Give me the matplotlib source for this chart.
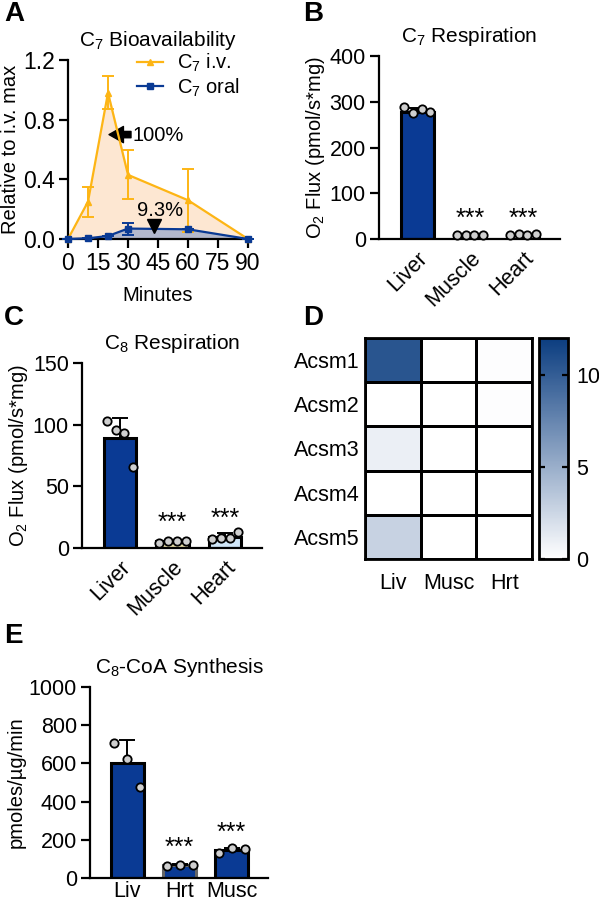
import matplotlib
matplotlib.use('Agg')
import matplotlib.pyplot as plt
from matplotlib.colors import LinearSegmentedColormap
import numpy as np

plt.rcParams['font.family'] = ['Liberation Sans', 'DejaVu Sans']
plt.rcParams['font.size'] = 14.5
plt.rcParams['xtick.labelsize'] = 15.5
plt.rcParams['ytick.labelsize'] = 15.5
plt.rcParams['axes.linewidth'] = 1.6
plt.rcParams['xtick.major.width'] = 1.6
plt.rcParams['ytick.major.width'] = 1.6
plt.rcParams['xtick.major.size'] = 6.5
plt.rcParams['ytick.major.size'] = 6.5
plt.rcParams['mathtext.default'] = 'regular'

# ---- data ----
# A: bioavailability
minutes = [0, 10, 20, 30, 60, 90]
iv_mean = [0.0, 0.25, 0.98, 0.43, 0.26, 0.0]
iv_sd = [0.0, 0.10, 0.11, 0.165, 0.21, 0.0]
oral_mean = [0.0, 0.005, 0.02, 0.07, 0.065, 0.0]
oral_sd = [0.0, 0.0, 0.0, 0.04, 0.0, 0.0]

# B: C7 respiration
tissues = ['Liver', 'Muscle', 'Heart']
c7_mean = [278, 9, 9]
c7_sd = [9, 1, 2]
c7_points = [[288, 276, 284, 277], [8, 9, 9, 9], [8, 12, 9, 10]]

# C: C8 respiration
c8_mean = [89, 5.5, 9]
c8_sd = [16, 1, 3]
c8_points = [[103, 96, 93, 66], [4, 6, 6, 6], [7, 8, 8, 13]]

# D: heatmap
genes = ['Acsm1', 'Acsm2', 'Acsm3', 'Acsm4', 'Acsm5']
tissues_short = ['Liv', 'Musc', 'Hrt']
acsm = [[10.5, 0.0, 0.1],
        [0.0, 0.0, 0.1],
        [1.0, 0.0, 0.0],
        [0.0, 0.0, 0.0],
        [2.8, 0.0, 0.0]]

# E: C8-CoA synthesis
tissues_e = ['Liv', 'Hrt', 'Musc']
coa_mean = [602, 68, 145]
coa_sd = [118, 4, 12]
coa_points = [[705, 625, 478], [65, 70, 68], [132, 155, 150]]

BLUE = '#0a3a94'
ORANGE = '#fdb515'

W, H = 599, 900
fig = plt.figure(figsize=(W / 100, H / 100), dpi=100)


def px_axes(l, t, r, b):
    return fig.add_axes([l / W, 1 - b / H, (r - l) / W, (b - t) / H])


def style(ax):
    ax.spines['top'].set_visible(False)
    ax.spines['right'].set_visible(False)
    ax.tick_params(direction='out', pad=3)


def bar_panel(ax, labels, means, sds, points, colors, edges, ymax, yticks, ylabel, title, rot):
    x = np.arange(len(labels))
    ax.bar(x, means, width=0.62, color=colors, edgecolor=edges, linewidth=2.2, zorder=2)
    ax.errorbar(x, means, yerr=[np.zeros(len(sds)), sds], fmt='none', ecolor='black',
                elinewidth=1.4, capsize=6, capthick=1.4, zorder=3)
    for i, pts in enumerate(points):
        n = len(pts)
        offs = np.linspace(-0.25, 0.25, n)
        ax.plot(x[i] + offs, pts, 'o', ms=6, mfc='#cfcfcf', mec='black', mew=1.3,
                zorder=4, clip_on=False)
    ax.set_xlim(-0.72, len(labels) - 0.3)
    ax.set_ylim(0, ymax)
    ax.set_yticks(yticks)
    ax.set_xticks(x)
    style(ax)
    if rot:
        ax.set_xticklabels(labels, rotation=45, ha='right', rotation_mode='anchor')
        ax.tick_params(axis='x', length=0, pad=6)
    else:
        ax.set_xticklabels(labels)
        ax.tick_params(axis='x', length=0, pad=2)
    ax.set_ylabel(ylabel, labelpad=2)
    ax.set_title(title, fontsize=15, pad=10)
    return x


# ---- A ----
axA = px_axes(68, 60, 248, 239)
axA.fill_between(minutes, iv_mean, color='#fde7d2', zorder=1)
axA.fill_between(minutes, oral_mean, color='#b3b8cc', zorder=1.5)
axA.errorbar(minutes, iv_mean, yerr=iv_sd, color=ORANGE, lw=1.6, marker='^', ms=5,
             capsize=4, capthick=1.4, elinewidth=1.4, label='C$_7$ i.v.', zorder=3, clip_on=False)
axA.errorbar(minutes, oral_mean, yerr=oral_sd, color=BLUE, lw=1.6, marker='s', ms=5,
             capsize=4, capthick=1.4, elinewidth=1.4, label='C$_7$ oral', zorder=4, clip_on=False)
axA.set_xlim(0, 90)
axA.set_ylim(0, 1.2)
axA.set_xticks([0, 15, 30, 45, 60, 75, 90])
axA.set_yticks([0, 0.4, 0.8, 1.2])
axA.set_yticklabels(['0.0', '0.4', '0.8', '1.2'])
axA.tick_params(labelsize=16.5)
axA.set_xlabel('Minutes', labelpad=8)
axA.set_ylabel('Relative to i.v. max', labelpad=2)
axA.set_title('C$_7$ Bioavailability', fontsize=15, pad=10)
axA.annotate('', xy=(20.5, 0.70), xytext=(31.5, 0.70),
             arrowprops=dict(arrowstyle='simple,head_length=0.8,head_width=0.9,tail_width=0.35',
                             color='black', mutation_scale=13, shrinkA=0, shrinkB=0))
axA.text(32, 0.695, '100%', ha='left', va='center')
axA.plot([43], [0.085], 'v', color='black', ms=10, zorder=5)
axA.text(46, 0.19, '9.3%', ha='center', va='center')
handles, labels = axA.get_legend_handles_labels()
handles = [h[0] for h in handles]
leg = axA.legend(handles, labels, loc='upper right', bbox_to_anchor=(1.0, 1.09), frameon=False,
                 handlelength=1.3, handletextpad=0.7, borderaxespad=0, labelspacing=0.1)
style(axA)

# ---- B ----
axB = px_axes(379, 56, 560, 239)
xb = bar_panel(axB, tissues, c7_mean, c7_sd, c7_points, [BLUE, '#dcdcdc', '#dcdcdc'],
               'black', 400, [0, 100, 200, 300, 400], 'O$_2$ Flux (pmol/s*mg)',
               'C$_7$ Respiration', True)
for i in [1, 2]:
    axB.text(xb[i], 44, '***', ha='center', va='center', fontsize=18)

# ---- C ----
axC = px_axes(82, 363, 262, 548)
xc = bar_panel(axC, tissues, c8_mean, c8_sd, c8_points, [BLUE, '#e8dfa8', '#cfe5f7'],
               'black', 150, [0, 50, 100, 150], 'O$_2$ Flux (pmol/s*mg)',
               'C$_8$ Respiration', True)
axC.text(xc[1], 20, '***', ha='center', va='center', fontsize=18)
axC.text(xc[2], 24, '***', ha='center', va='center', fontsize=18)

# ---- D ----
axD = px_axes(365, 338, 532, 559)
cmap = LinearSegmentedColormap.from_list('wb', ['#ffffff', '#0b3d80'])
mesh = axD.pcolormesh(np.array(acsm), cmap=cmap, vmin=0, vmax=12,
                      edgecolors='black', linewidth=1.0)
axD.set_ylim(len(genes), 0)
axD.set_xticks(np.arange(len(tissues_short)) + 0.5)
axD.set_xticklabels(tissues_short)
axD.set_yticks(np.arange(len(genes)) + 0.5)
axD.set_yticklabels(genes)
axD.tick_params(length=0, pad=4)
axD.tick_params(axis='x', pad=10)
for s in axD.spines.values():
    s.set_linewidth(2)
axCb = px_axes(539, 338, 568, 559)
cb = fig.colorbar(mesh, cax=axCb, ticks=[0, 5, 10])
cb.outline.set_linewidth(2)
axCb.tick_params(direction='in', left=True, right=True, length=4, width=1.6, pad=6)

# ---- E ----
axE = px_axes(90, 687, 268, 878)
xe = bar_panel(axE, tissues_e, coa_mean, coa_sd, coa_points, [BLUE, BLUE, BLUE],
               ['black', '#666666', 'black'], 1000, [0, 200, 400, 600, 800, 1000],
               'pmoles/µg/min', 'C$_8$-CoA Synthesis', False)
axE.text(xe[1], 157, '***', ha='center', va='center', fontsize=18)
axE.text(xe[2], 236, '***', ha='center', va='center', fontsize=18)

# panel letters
for lab, (px, py) in zip('ABCDE', [(4, 14), (303, 14), (4, 318), (303, 318), (4, 636)]):
    fig.text(px / W, 1 - py / H, lab, fontsize=20, fontweight='bold', va='center', ha='left')

fig.savefig('out.png', dpi=100)
